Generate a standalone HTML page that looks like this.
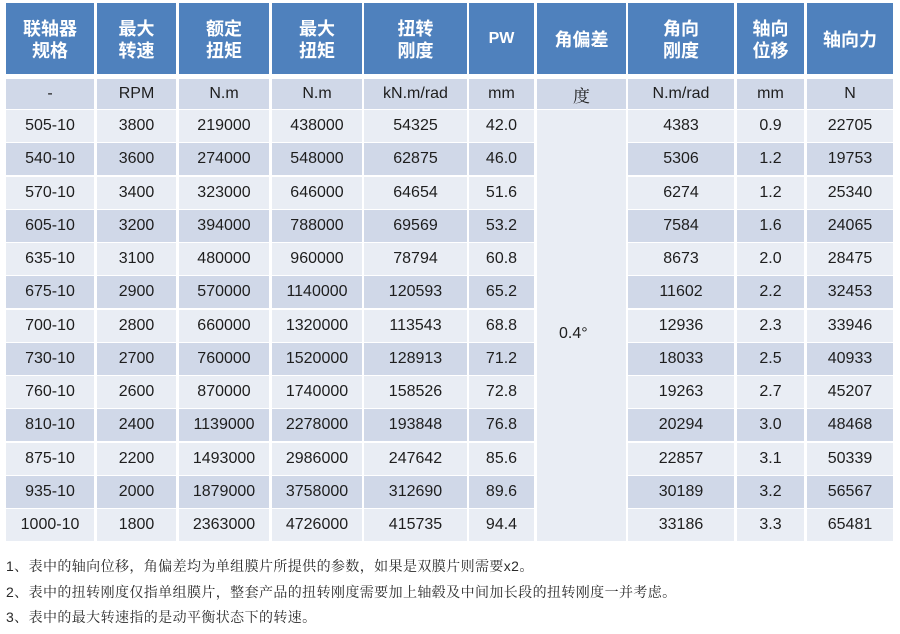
<!DOCTYPE html>
<html><head><meta charset="utf-8">
<style>
html,body{margin:0;padding:0;background:#fff;}
body{width:900px;height:634px;position:relative;overflow:hidden;font-family:"Liberation Sans","Noto Sans CJK SC",sans-serif;}
.r{position:absolute;left:0;width:900px;height:32px;}
.c{position:absolute;top:0;height:100%;display:flex;align-items:center;justify-content:center;font-size:16px;color:#1e1e1e;white-space:nowrap;}
.h .c{color:#fff;font-weight:bold;font-size:18px;line-height:22px;text-align:center;background:#4f81bd;font-family:"Noto Sans CJK SC","Liberation Sans",sans-serif;}
.h .c.pw{font-family:"Liberation Sans",sans-serif;font-size:16px;}
.L .c{background:#e9edf4;}
.D .c{background:#d0d8e8;}
.c1{left:6px;width:88px}
.c2{left:97px;width:79px}
.c3{left:179px;width:90px}
.c4{left:272px;width:90px}
.c5{left:364px;width:103px}
.c6{left:469px;width:65px}
.c7{left:537px;width:89px}
.c8{left:628px;width:106px}
.c9{left:737px;width:67px}
.c10{left:807px;width:86px}
.merged{position:absolute;left:537px;top:110px;width:89px;height:431px;background:#e9edf4;}
.merged span{position:absolute;left:22px;top:215px;font-size:16px;color:#1e1e1e;}
.note{position:absolute;left:6px;font-size:14px;letter-spacing:0.4px;color:#2a2a2a;font-family:"Liberation Sans","Noto Serif CJK SC",serif;white-space:nowrap;line-height:18px;}
.serif{font-family:"Noto Serif CJK SC",serif;font-size:17px;}
</style></head><body>

<div class="r h" style="top:3px;height:71px;">
<div class="c c1">联轴器<br>规格</div>
<div class="c c2">最大<br>转速</div>
<div class="c c3">额定<br>扭矩</div>
<div class="c c4">最大<br>扭矩</div>
<div class="c c5">扭转<br>刚度</div>
<div class="c c6 pw">PW</div>
<div class="c c7">角偏差</div>
<div class="c c8">角向<br>刚度</div>
<div class="c c9">轴向<br>位移</div>
<div class="c c10">轴向力</div>
</div>

<div class="r D" style="top:79px;height:30px;">
<div class="c c1">-</div>
<div class="c c2">RPM</div>
<div class="c c3">N.m</div>
<div class="c c4">N.m</div>
<div class="c c5">kN.m/rad</div>
<div class="c c6">mm</div>
<div class="c c7"><span class="serif">度</span></div>
<div class="c c8">N.m/rad</div>
<div class="c c9">mm</div>
<div class="c c10">N</div>
</div>

<div class="r L" style="top:110px;"><div class="c c1">505-10</div><div class="c c2">3800</div><div class="c c3">219000</div><div class="c c4">438000</div><div class="c c5">54325</div><div class="c c6">42.0</div><div class="c c8">4383</div><div class="c c9">0.9</div><div class="c c10">22705</div></div>
<div class="r D" style="top:143px;"><div class="c c1">540-10</div><div class="c c2">3600</div><div class="c c3">274000</div><div class="c c4">548000</div><div class="c c5">62875</div><div class="c c6">46.0</div><div class="c c8">5306</div><div class="c c9">1.2</div><div class="c c10">19753</div></div>
<div class="r L" style="top:177px;"><div class="c c1">570-10</div><div class="c c2">3400</div><div class="c c3">323000</div><div class="c c4">646000</div><div class="c c5">64654</div><div class="c c6">51.6</div><div class="c c8">6274</div><div class="c c9">1.2</div><div class="c c10">25340</div></div>
<div class="r D" style="top:210px;"><div class="c c1">605-10</div><div class="c c2">3200</div><div class="c c3">394000</div><div class="c c4">788000</div><div class="c c5">69569</div><div class="c c6">53.2</div><div class="c c8">7584</div><div class="c c9">1.6</div><div class="c c10">24065</div></div>
<div class="r L" style="top:243px;"><div class="c c1">635-10</div><div class="c c2">3100</div><div class="c c3">480000</div><div class="c c4">960000</div><div class="c c5">78794</div><div class="c c6">60.8</div><div class="c c8">8673</div><div class="c c9">2.0</div><div class="c c10">28475</div></div>
<div class="r D" style="top:276px;"><div class="c c1">675-10</div><div class="c c2">2900</div><div class="c c3">570000</div><div class="c c4">1140000</div><div class="c c5">120593</div><div class="c c6">65.2</div><div class="c c8">11602</div><div class="c c9">2.2</div><div class="c c10">32453</div></div>
<div class="r L" style="top:310px;"><div class="c c1">700-10</div><div class="c c2">2800</div><div class="c c3">660000</div><div class="c c4">1320000</div><div class="c c5">113543</div><div class="c c6">68.8</div><div class="c c8">12936</div><div class="c c9">2.3</div><div class="c c10">33946</div></div>
<div class="r D" style="top:343px;"><div class="c c1">730-10</div><div class="c c2">2700</div><div class="c c3">760000</div><div class="c c4">1520000</div><div class="c c5">128913</div><div class="c c6">71.2</div><div class="c c8">18033</div><div class="c c9">2.5</div><div class="c c10">40933</div></div>
<div class="r L" style="top:376px;"><div class="c c1">760-10</div><div class="c c2">2600</div><div class="c c3">870000</div><div class="c c4">1740000</div><div class="c c5">158526</div><div class="c c6">72.8</div><div class="c c8">19263</div><div class="c c9">2.7</div><div class="c c10">45207</div></div>
<div class="r D" style="top:409px;"><div class="c c1">810-10</div><div class="c c2">2400</div><div class="c c3">1139000</div><div class="c c4">2278000</div><div class="c c5">193848</div><div class="c c6">76.8</div><div class="c c8">20294</div><div class="c c9">3.0</div><div class="c c10">48468</div></div>
<div class="r L" style="top:443px;"><div class="c c1">875-10</div><div class="c c2">2200</div><div class="c c3">1493000</div><div class="c c4">2986000</div><div class="c c5">247642</div><div class="c c6">85.6</div><div class="c c8">22857</div><div class="c c9">3.1</div><div class="c c10">50339</div></div>
<div class="r D" style="top:476px;"><div class="c c1">935-10</div><div class="c c2">2000</div><div class="c c3">1879000</div><div class="c c4">3758000</div><div class="c c5">312690</div><div class="c c6">89.6</div><div class="c c8">30189</div><div class="c c9">3.2</div><div class="c c10">56567</div></div>
<div class="r L" style="top:509px;"><div class="c c1">1000-10</div><div class="c c2">1800</div><div class="c c3">2363000</div><div class="c c4">4726000</div><div class="c c5">415735</div><div class="c c6">94.4</div><div class="c c8">33186</div><div class="c c9">3.3</div><div class="c c10">65481</div></div>

<div class="merged"><span>0.4°</span></div>

<div class="note" style="top:557px;">1、表中的轴向位移，角偏差均为单组膜片所提供的参数，如果是双膜片则需要x2。</div>
<div class="note" style="top:583px;">2、表中的扭转刚度仅指单组膜片，整套产品的扭转刚度需要加上轴毂及中间加长段的扭转刚度一并考虑。</div>
<div class="note" style="top:608px;">3、表中的最大转速指的是动平衡状态下的转速。</div>

</body></html>
